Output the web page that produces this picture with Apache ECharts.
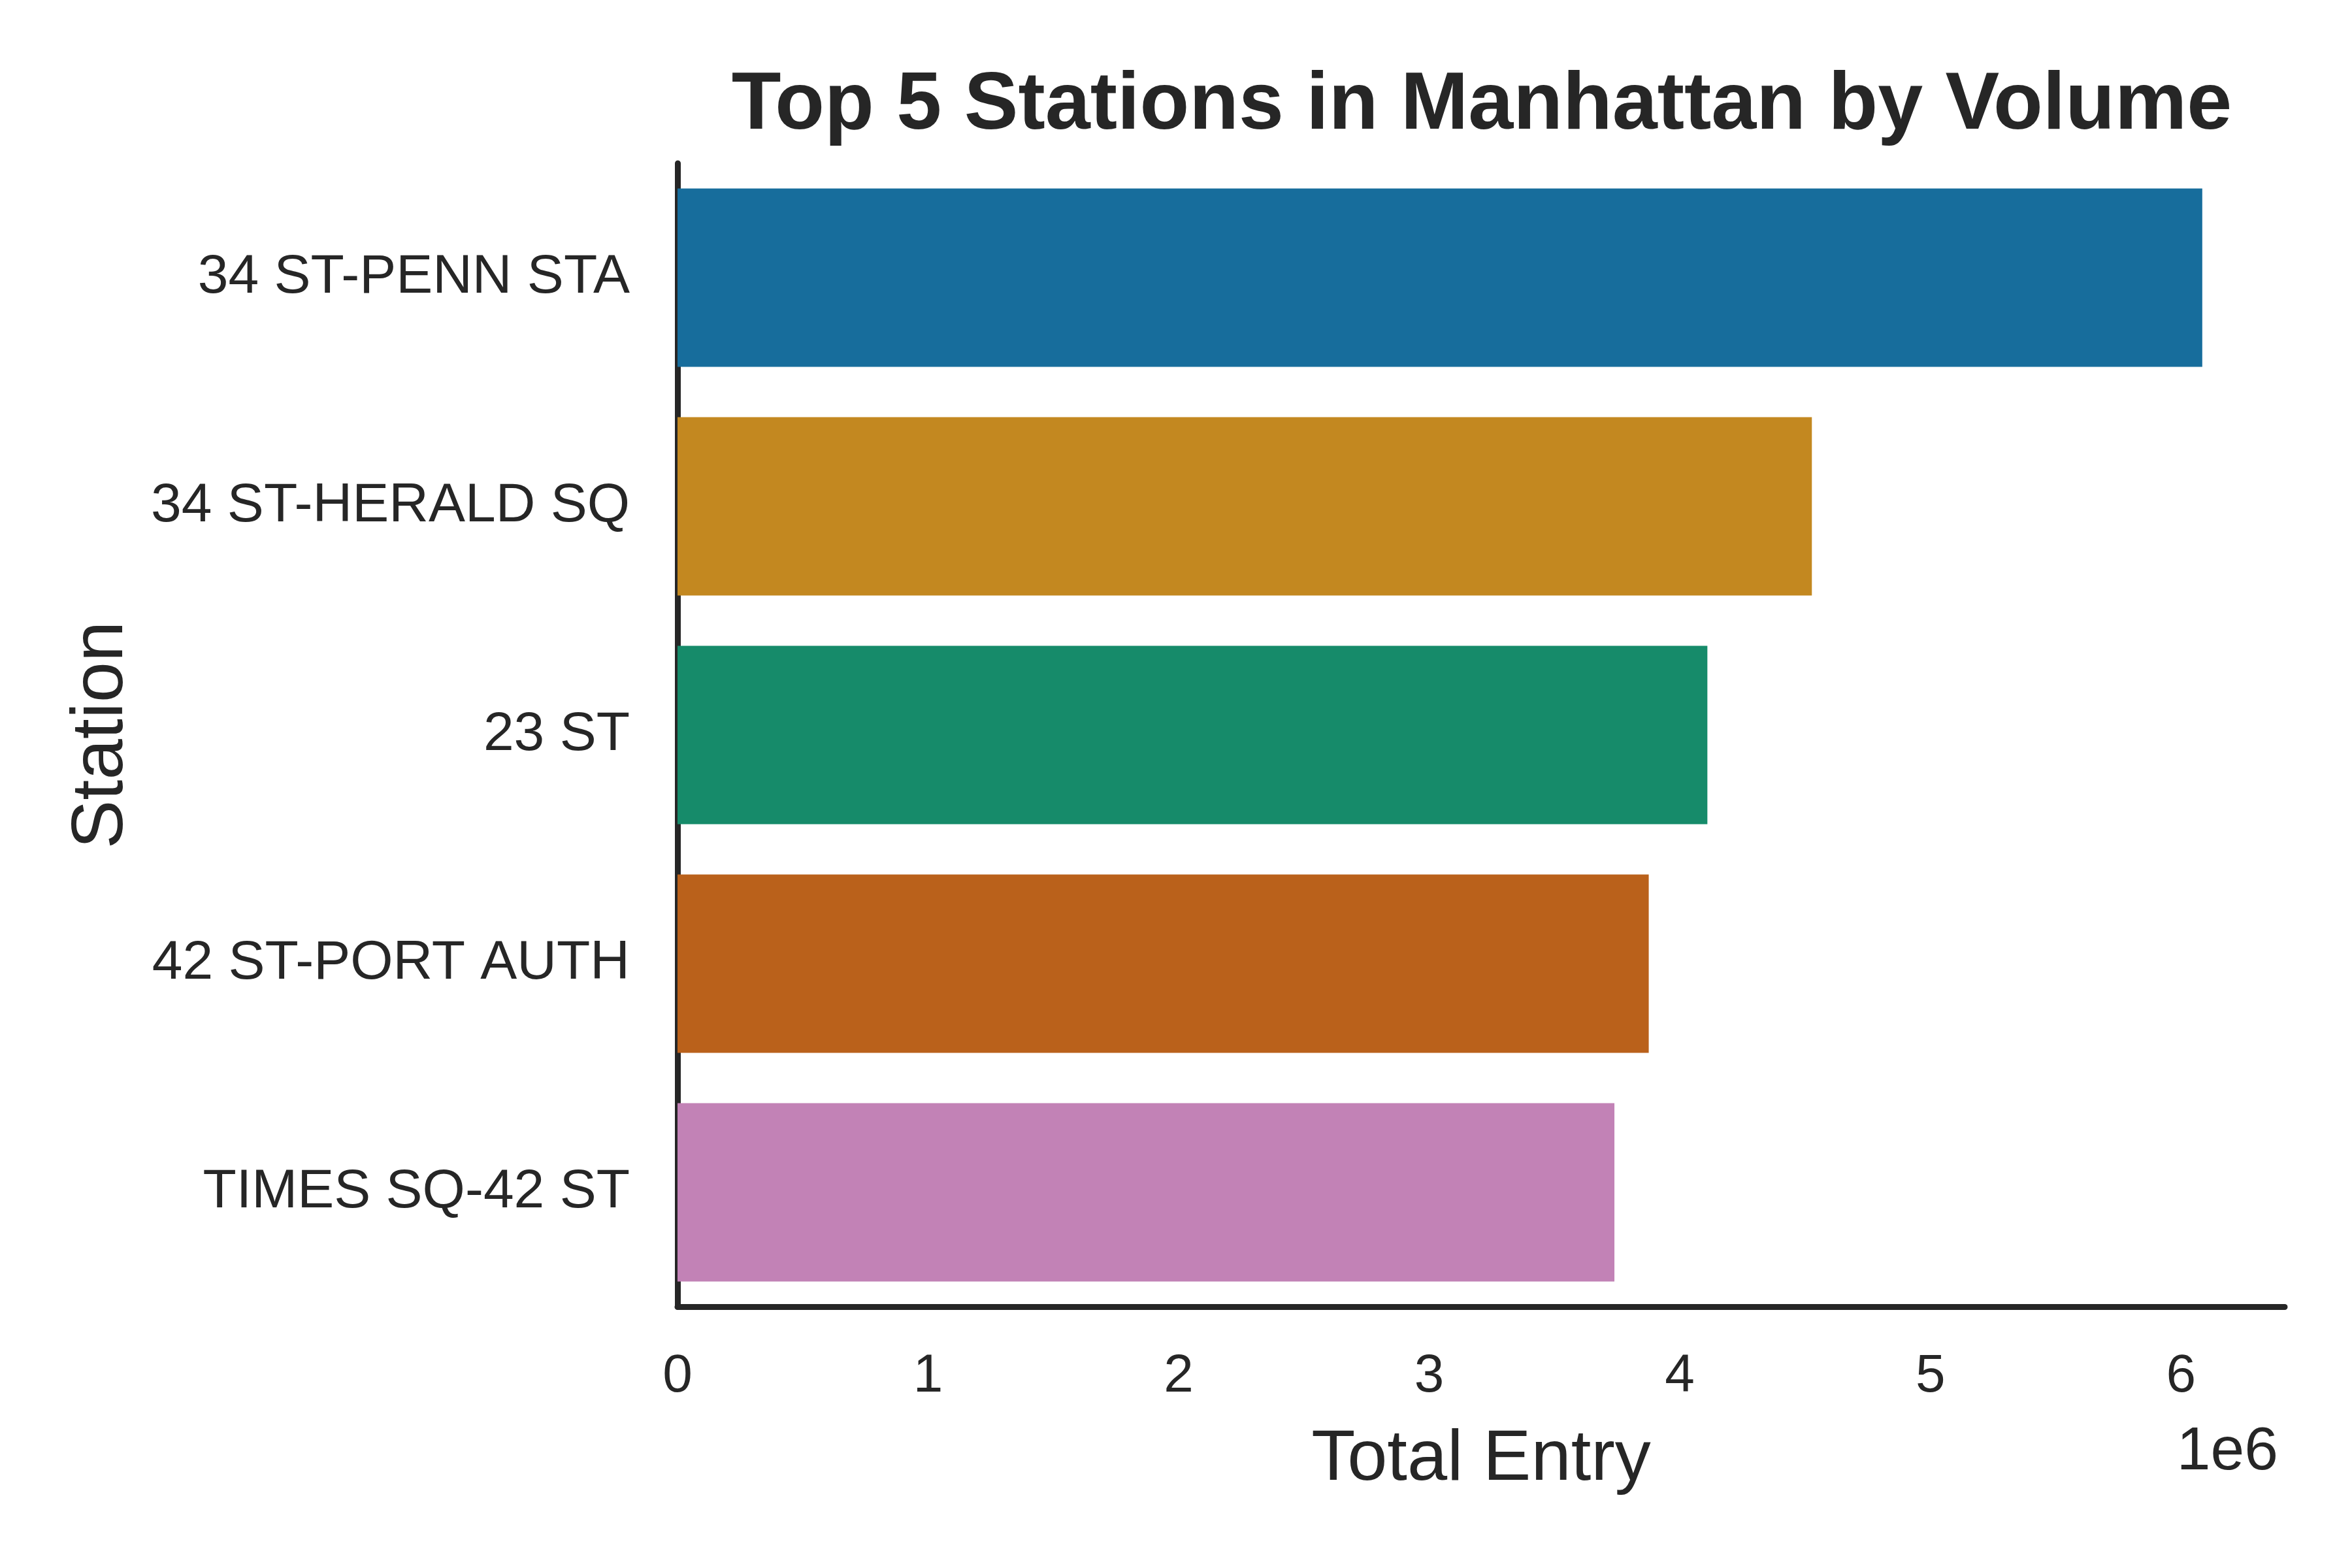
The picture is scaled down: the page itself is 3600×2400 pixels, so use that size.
<!DOCTYPE html>
<html>
<head>
<meta charset="utf-8">
<script src="https://cdn.jsdelivr.net/npm/echarts@6/dist/echarts.min.js"></script>
<style>
  html, body { margin: 0; padding: 0; background: #fff; }
  #chart { width: 3600px; height: 2400px; }
</style>
</head>
<body>
<div id="chart"></div>
<script>
// 车站与进站总量
const stations = ['34 ST-PENN STA', '34 ST-HERALD SQ', '23 ST', '42 ST-PORT AUTH', 'TIMES SQ-42 ST']
const totalEntry = [6085000, 4527000, 4110000, 3876000, 3739000]
const barColors = ['#176d9c', '#c38820', '#168b6a', '#ba611b', '#c282b6']
const xTicks = [0, 1, 2, 3, 4, 5, 6]

const textColor = '#262626'
const fontFamily = '"Liberation Sans", Arial, sans-serif'

const chart = echarts.init(document.getElementById('chart'))

const option = {
  backgroundColor: '#ffffff',
  animation: false,
  grid: {
    left: 1037,
    right: 103,
    top: 250,
    bottom: 400
  },
  xAxis: {
    type: 'value',
    min: 0,
    max: 6414000,
    interval: 1000000,
    name: 'Total Entry',
    nameLocation: 'middle',
    nameGap: 180,
    nameTextStyle: { fontSize: 110, color: textColor, fontFamily: fontFamily },
    axisLine: { show: true, lineStyle: { color: textColor, width: 9 } },
    axisTick: { show: false },
    splitLine: { show: false },
    axisLabel: {
      fontSize: 82,
      color: textColor,
      fontFamily: fontFamily,
      margin: 66,
      showMaxLabel: false,
      formatter: function (v) {
        const t = Math.round(v / 1000000)
        return xTicks.indexOf(t) >= 0 && Math.abs(v - t * 1000000) < 1 ? String(t) : ''
      }
    }
  },
  yAxis: {
    type: 'category',
    inverse: true,
    data: stations,
    name: 'Station',
    nameLocation: 'middle',
    nameRotate: 90,
    nameGap: 825,
    nameTextStyle: { fontSize: 112, color: textColor, fontFamily: fontFamily },
    axisLine: { show: true, lineStyle: { color: textColor, width: 9 } },
    axisTick: { show: false },
    axisLabel: {
      fontSize: 84,
      color: textColor,
      fontFamily: fontFamily,
      margin: 73
    }
  },
  series: [{
    type: 'bar',
    barWidth: '78%',
    data: totalEntry.map((v, i) => ({
      value: v,
      itemStyle: { color: barColors[i] }
    }))
  }],
  graphic: [
    {
      type: 'text',
      x: 2268,
      y: 101,
      style: {
        text: 'Top 5 Stations in Manhattan by Volume',
        fontSize: 124,
        fontWeight: 'bold',
        fontFamily: fontFamily,
        fill: textColor,
        textAlign: 'center',
        textVerticalAlign: 'top'
      }
    },
    {
      type: 'text',
      x: 3487,
      y: 2177,
      style: {
        text: '1e6',
        fontSize: 93,
        fontFamily: fontFamily,
        fill: textColor,
        textAlign: 'right',
        textVerticalAlign: 'top'
      }
    }
  ]
}

chart.setOption(option)
</script>
</body>
</html>
